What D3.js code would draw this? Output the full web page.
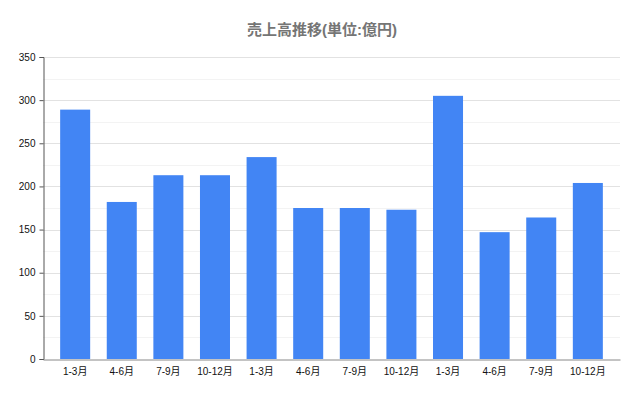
<!DOCTYPE html>
<html>
<head>
<meta charset="utf-8">
<script src="https://cdn.jsdelivr.net/npm/d3@7"></script>
<style>
  body { margin: 0; background: #fff; }
  text { font-family: "Liberation Sans", "Noto Sans CJK JP", sans-serif; }
</style>
</head>
<body>
<div id="chart"></div>
<script>
// quarters over three years
var quarters = ["1-3月", "4-6月", "7-9月", "10-12月",
                "1-3月", "4-6月", "7-9月", "10-12月",
                "1-3月", "4-6月", "7-9月", "10-12月"];
var sales = [289, 182, 213, 213, 234, 175, 175, 173, 305, 147, 164, 204];
var yTicks = [0, 50, 100, 150, 200, 250, 300, 350];
var yMinor = [25, 75, 125, 175, 225, 275, 325];

var width = 640, height = 395;
var plotLeft = 43, plotRight = 620, plotTop = 57, plotBottom = 359;

var svg = d3.select("#chart").append("svg")
    .attr("width", width)
    .attr("height", height);

// title
svg.append("text")
    .attr("x", 322)
    .attr("y", 35)
    .attr("text-anchor", "middle")
    .attr("font-family", "'Noto Sans CJK JP', sans-serif")
    .attr("font-size", 15)
    .attr("font-weight", "bold")
    .attr("fill", "#757575")
    .text("売上高推移(単位:億円)");

var idx = d3.range(quarters.length);

var x = d3.scaleBand()
    .domain(idx)
    .range([plotLeft, plotRight])
    .paddingInner(0.356)
    .paddingOuter(0.368);

var y = d3.scaleLinear()
    .domain([0, 350])
    .range([plotBottom, plotTop]);

// grid lines
svg.append("g").selectAll("line").data(yMinor).enter()
    .append("line")
    .attr("x1", plotLeft).attr("x2", plotRight)
    .attr("y1", function(d) { return Math.round(y(d)) + 0.5; })
    .attr("y2", function(d) { return Math.round(y(d)) + 0.5; })
    .attr("stroke", "#f3f3f3");

svg.append("g").selectAll("line").data(yTicks.slice(1)).enter()
    .append("line")
    .attr("x1", plotLeft).attr("x2", plotRight)
    .attr("y1", function(d) { return Math.round(y(d)) + 0.5; })
    .attr("y2", function(d) { return Math.round(y(d)) + 0.5; })
    .attr("stroke", "#e2e2e2");

// bars
svg.append("g").selectAll("rect").data(sales).enter()
    .append("rect")
    .attr("x", function(d, i) { return x(i); })
    .attr("y", function(d) { return y(d); })
    .attr("width", x.bandwidth())
    .attr("height", function(d) { return plotBottom - y(d); })
    .attr("fill", "#4285f4");

// y axis
var yAxis = d3.axisLeft(y).tickValues(yTicks).tickSize(4).tickPadding(4);
var gy = svg.append("g")
    .attr("transform", "translate(" + (plotLeft + 0.5) + ",0)")
    .call(yAxis);
gy.select(".domain").attr("stroke", "#555");
gy.selectAll(".tick line").attr("stroke", "#555");
gy.selectAll(".tick text")
    .attr("font-size", 10)
    .attr("fill", "#111");

// x axis
var xAxis = d3.axisBottom(x).tickSize(0).tickPadding(8)
    .tickFormat(function(i) { return quarters[i]; });
var gx = svg.append("g")
    .attr("transform", "translate(0," + (plotBottom + 0.5) + ")")
    .call(xAxis);
gx.select(".domain").attr("stroke", "#888");
gx.selectAll(".tick text")
    .attr("font-size", 10)
    .attr("fill", "#111");
</script>
</body>
</html>
